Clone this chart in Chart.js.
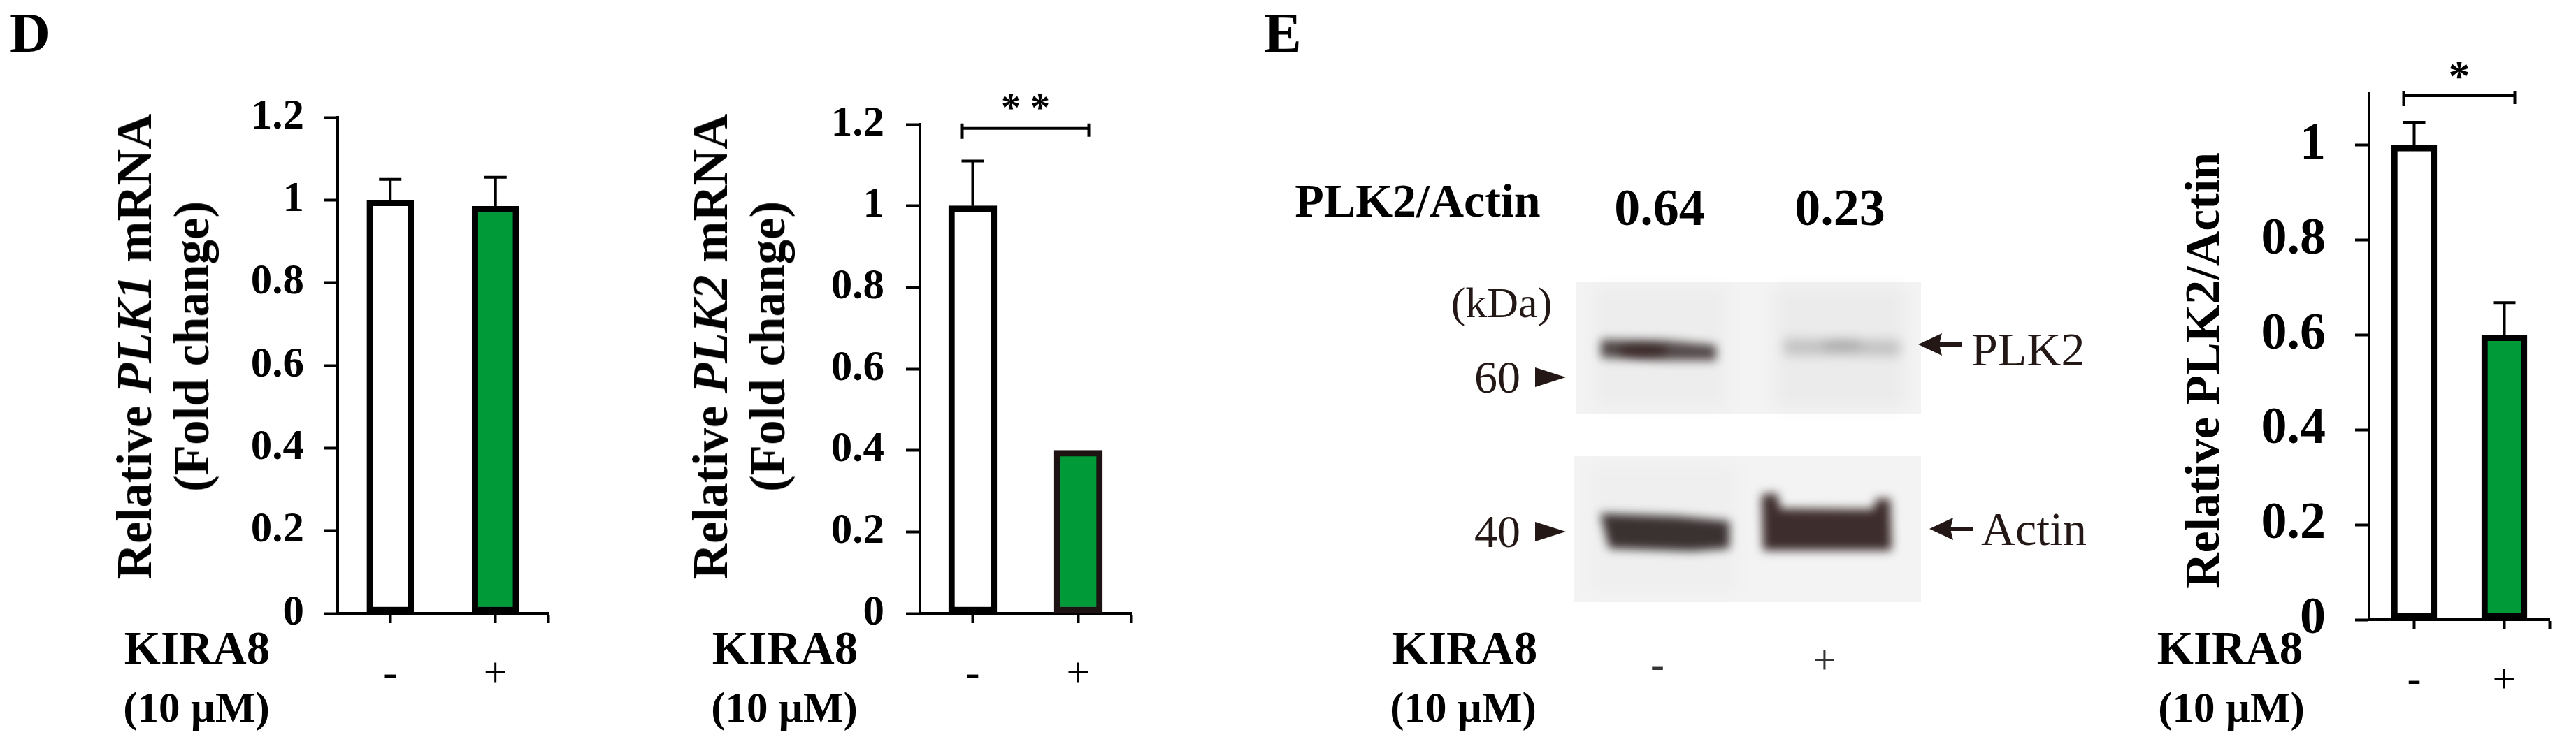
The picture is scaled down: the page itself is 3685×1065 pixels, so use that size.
<!DOCTYPE html>
<html>
<head>
<meta charset="utf-8">
<script src="https://cdn.jsdelivr.net/npm/chart.js@4.4.0/dist/chart.umd.min.js"></script>
<style>
html, body { margin: 0; padding: 0; background: #fff; }
#fig { position: relative; width: 3685px; height: 1065px; overflow: hidden; font-family: "Liberation Serif", "Times New Roman", serif; color: #000; }
#fig canvas { position: absolute; }
.t { position: absolute; white-space: nowrap; line-height: 1; transform: translate(-50%, -50%); }
.l { position: absolute; white-space: nowrap; line-height: 1; transform: translate(0, -50%); }
.rot { transform: translate(-50%, -50%) rotate(-90deg); text-align: center; }
</style>
</head>
<body>
<div id="fig"></div>
<script>
// data
var groups = ['-', '+'];
var groupPos = [0.5, 1.5];
var plk1Mean = [1.0, 0.985];
var plk1Err = [0.05, 0.07];
var plk2Mean = [1.0, 0.4];
var plk2Err = [0.11, 0];
var protMean = [1.0, 0.6];
var protErr = [0.048, 0.068];
var mrnaTicks = [0, 0.2, 0.4, 0.6, 0.8, 1, 1.2];
var mrnaTickLabels = ['0', '0.2', '0.4', '0.6', '0.8', '1', '1.2'];
var protTicks = [0, 0.2, 0.4, 0.6, 0.8, 1];
var protTickLabels = ['0', '0.2', '0.4', '0.6', '0.8', '1'];
var blotRatio = ['0.64', '0.23'];
var barFill = ['#ffffff', '#009a39'];

var fig = document.getElementById('fig');
var SERIF = '"Liberation Serif", "Times New Roman", serif';

function label(html, x, y, size, bold, cls, color) {
  var d = document.createElement('div');
  d.className = cls || 't';
  d.innerHTML = html;
  d.style.left = x + 'px';
  d.style.top = y + 'px';
  d.style.fontSize = size + 'px';
  d.style.fontWeight = bold ? 'bold' : 'normal';
  if (color) d.style.color = color;
  fig.appendChild(d);
  return d;
}

// error bars, significance bracket and stars
var sigPlugin = {
  id: 'sig',
  afterDatasetsDraw: function(chart, args, opts) {
    var ctx = chart.ctx, ys = chart.scales.y;
    var bars = chart.getDatasetMeta(0).data;
    var vals = chart.data.datasets[0].data;
    ctx.save();
    ctx.strokeStyle = '#000';
    ctx.lineWidth = 4;
    opts.err.forEach(function(e, i) {
      if (!e) return;
      var x = bars[i].x;
      var y0 = ys.getPixelForValue(vals[i].y);
      var y1 = ys.getPixelForValue(vals[i].y + e);
      ctx.beginPath();
      ctx.moveTo(x, y0); ctx.lineTo(x, y1);
      ctx.moveTo(x - 16, y1); ctx.lineTo(x + 16, y1);
      ctx.stroke();
    });
    if (opts.bracket) {
      var b = opts.bracket;
      var yb = ys.getPixelForValue(b.y);
      var xa = bars[0].x - 15, xb = bars[1].x + 15;
      ctx.beginPath();
      ctx.moveTo(xa, yb); ctx.lineTo(xb, yb);
      ctx.moveTo(xa, yb - 7); ctx.lineTo(xa, yb + 15);
      ctx.moveTo(xb, yb - 7); ctx.lineTo(xb, yb + 12);
      ctx.stroke();
      ctx.fillStyle = '#000';
      ctx.font = 'bold ' + b.size + 'px ' + SERIF;
      ctx.textAlign = 'center';
      ctx.textBaseline = 'alphabetic';
      ctx.fillText(b.stars, (xa + xb) / 2, yb - 38 + b.size * 0.48);
    }
    ctx.restore();
  }
};

function barChart(c) {
  var cv = document.createElement('canvas');
  cv.width = c.width; cv.height = c.height;
  cv.style.left = c.left + 'px'; cv.style.top = c.top + 'px';
  fig.appendChild(cv);
  var xLabels = groups.concat(['']);
  return new Chart(cv.getContext('2d'), {
    type: 'bar',
    data: {
      datasets: [{
        data: c.mean.map(function(v, i) { return {x: groupPos[i], y: v}; }),
        backgroundColor: barFill,
        borderColor: c.border || '#000',
        borderWidth: 9,
        borderSkipped: false,
        barThickness: c.barW
      }]
    },
    options: {
      responsive: false,
      animation: false,
      devicePixelRatio: 1,
      layout: {padding: {top: c.padTop, right: c.padRight, left: 0, bottom: 0}},
      plugins: {
        legend: {display: false},
        tooltip: {enabled: false},
        sig: {err: c.err, bracket: c.bracket}
      },
      scales: {
        x: {
          type: 'linear', min: 0, max: 2, offset: false,
          grid: {drawOnChartArea: false, drawTicks: true, tickLength: 14, tickWidth: 4, tickColor: '#000', offset: false},
          border: {display: true, color: '#000', width: 4},
          ticks: {
            autoSkip: false, maxRotation: 0, padding: 38, color: '#000',
            font: {family: SERIF, size: 60},
            callback: function(v, i) { return xLabels[i]; }
          },
          afterBuildTicks: function(s) { s.ticks = groupPos.concat([2]).map(function(v) { return {value: v}; }); },
          afterFit: function(s) { s.height = c.xHeight; }
        },
        y: {
          min: 0, max: c.yMax,
          grid: {drawOnChartArea: false, drawTicks: true, tickLength: 20, tickWidth: 4, tickColor: '#000'},
          border: {display: true, color: '#000', width: 4},
          ticks: {
            padding: c.tickPad, color: '#000',
            font: {family: SERIF, size: c.tickFont, weight: 'bold'},
            callback: function(v, i) { return c.tickLabels[i]; }
          },
          afterBuildTicks: function(s) { s.ticks = c.ticks.map(function(v) { return {value: v}; }); },
          afterFit: function(s) { s.width = 200; }
        }
      }
    },
    plugins: [sigPlugin]
  });
}

// panel D, PLK1
barChart({left: 283, top: 100, width: 540, height: 900, padTop: 68, padRight: 39, xHeight: 122,
  yMax: 1.2, ticks: mrnaTicks, tickLabels: mrnaTickLabels, tickFont: 61, tickPad: 28,
  mean: plk1Mean, err: plk1Err, barW: 67});

// panel D, PLK2
barChart({left: 1116, top: 100, width: 540, height: 900, padTop: 78, padRight: 32, xHeight: 122,
  yMax: 1.2, ticks: mrnaTicks, tickLabels: mrnaTickLabels, tickFont: 61, tickPad: 31,
  mean: plk2Mean, err: plk2Err, barW: 69, border: ['#000', '#1c1312'],
  bracket: {y: 1.19, stars: '* *', size: 56}});

// panel E, quantification
barChart({left: 3189, top: 40, width: 496, height: 960, padTop: 93, padRight: 18, xHeight: 113,
  yMax: 1.11, ticks: protTicks, tickLabels: protTickLabels, tickFont: 74, tickPad: 42,
  mean: protMean, err: protErr, barW: 65,
  bracket: {y: 1.104, stars: '*', size: 62}});

// western blot
(function() {
  var cv = document.createElement('canvas');
  cv.width = 820; cv.height = 520;
  cv.style.left = '2040px'; cv.style.top = '380px';
  fig.appendChild(cv);
  var ctx = cv.getContext('2d');
  ctx.translate(-2040, -380);

  function poly(pts, color, blur) {
    ctx.save();
    ctx.filter = 'blur(' + blur + 'px)';
    ctx.fillStyle = color;
    ctx.beginPath();
    pts.forEach(function(p, i) { if (i) ctx.lineTo(p[0], p[1]); else ctx.moveTo(p[0], p[1]); });
    ctx.closePath();
    ctx.fill();
    ctx.restore();
  }
  function blob(x, y, rx, ry, color, blur) {
    ctx.save();
    ctx.filter = 'blur(' + blur + 'px)';
    ctx.fillStyle = color;
    ctx.beginPath();
    ctx.ellipse(x, y, rx, ry, 0, 0, Math.PI * 2);
    ctx.fill();
    ctx.restore();
  }

  // membranes
  ctx.fillStyle = '#f3f3f3';
  ctx.fillRect(2255, 403, 493, 189);
  ctx.fillRect(2251, 653, 497, 209);
  poly([[2280, 410], [2470, 410], [2470, 585], [2280, 585]], 'rgba(0,0,0,0.025)', 12);
  poly([[2540, 410], [2725, 410], [2725, 585], [2540, 585]], 'rgba(0,0,0,0.03)', 12);
  poly([[2275, 665], [2485, 665], [2485, 850], [2275, 850]], 'rgba(0,0,0,0.015)', 12);

  // PLK2 bands
  poly([[2290, 486], [2380, 487], [2455, 494], [2455, 516], [2380, 516], [2290, 512]], 'rgba(55,45,45,0.85)', 7);
  blob(2350, 502, 36, 9, 'rgba(40,12,12,0.5)', 6);
  poly([[2552, 485], [2718, 487], [2718, 509], [2552, 508]], 'rgba(100,100,100,0.3)', 8);
  blob(2635, 494, 30, 8, 'rgba(90,90,90,0.2)', 7);

  // actin bands
  poly([[2289, 735], [2400, 739], [2474, 746], [2474, 785], [2420, 789], [2302, 785]], 'rgba(44,34,34,0.93)', 7);
  poly([[2520, 708], [2542, 706], [2547, 728], [2680, 729], [2684, 714], [2704, 714], [2706, 788], [2522, 788]], 'rgba(52,34,34,0.95)', 7);

  // arrows and size markers
  ctx.fillStyle = '#231815';
  ctx.strokeStyle = '#231815';
  ctx.lineWidth = 6;
  [[2744, 493, 2806], [2760, 757, 2822]].forEach(function(a) {
    ctx.beginPath();
    ctx.moveTo(a[0], a[1]); ctx.lineTo(a[0] + 34, a[1] - 16); ctx.lineTo(a[0] + 30, a[1]); ctx.lineTo(a[0] + 34, a[1] + 16);
    ctx.closePath(); ctx.fill();
    ctx.beginPath(); ctx.moveTo(a[0] + 26, a[1]); ctx.lineTo(a[2], a[1]); ctx.stroke();
  });
  [540, 761].forEach(function(y) {
    ctx.beginPath();
    ctx.moveTo(2240, y); ctx.lineTo(2196, y - 14); ctx.lineTo(2196, y + 14);
    ctx.closePath(); ctx.fill();
  });
})();

// texts
label('D', 43, 47, 80, true);
label('E', 1835, 47, 80, true);
label('Relative <i>PLK1</i> mRNA<br>(Fold change)', 233, 496, 71, true, 't rot').style.lineHeight = '82px';
label('Relative <i>PLK2</i> mRNA<br>(Fold change)', 1057, 496, 71, true, 't rot').style.lineHeight = '82px';
label('Relative PLK2/Actin', 3151, 530, 70, true, 't rot');
[[282, 281], [1123, 1122], [2095, 2093], [3190, 3192]].forEach(function(p) {
  label('KIRA8', p[0], 927, 67, true);
  label('(10 µM)', p[1], 1012, 61, true);
});
label('PLK2/Actin', 2028, 287, 68, true);
label(blotRatio[0], 2374, 297, 74, true);
label(blotRatio[1], 2632, 297, 74, true);
label('(kDa)', 2148, 433, 62, false, 't', '#231815');
label('60', 2142, 540, 66, false, 't', '#231815');
label('40', 2142, 761, 66, false, 't', '#231815');
label('PLK2', 2820, 500, 68, false, 'l', '#231815');
label('Actin', 2834, 757, 68, false, 'l', '#231815');
label(groups[0], 2371, 951, 60, false, 't', '#333');
label(groups[1], 2610, 944, 60, false, 't', '#333');
</script>
</body>
</html>
